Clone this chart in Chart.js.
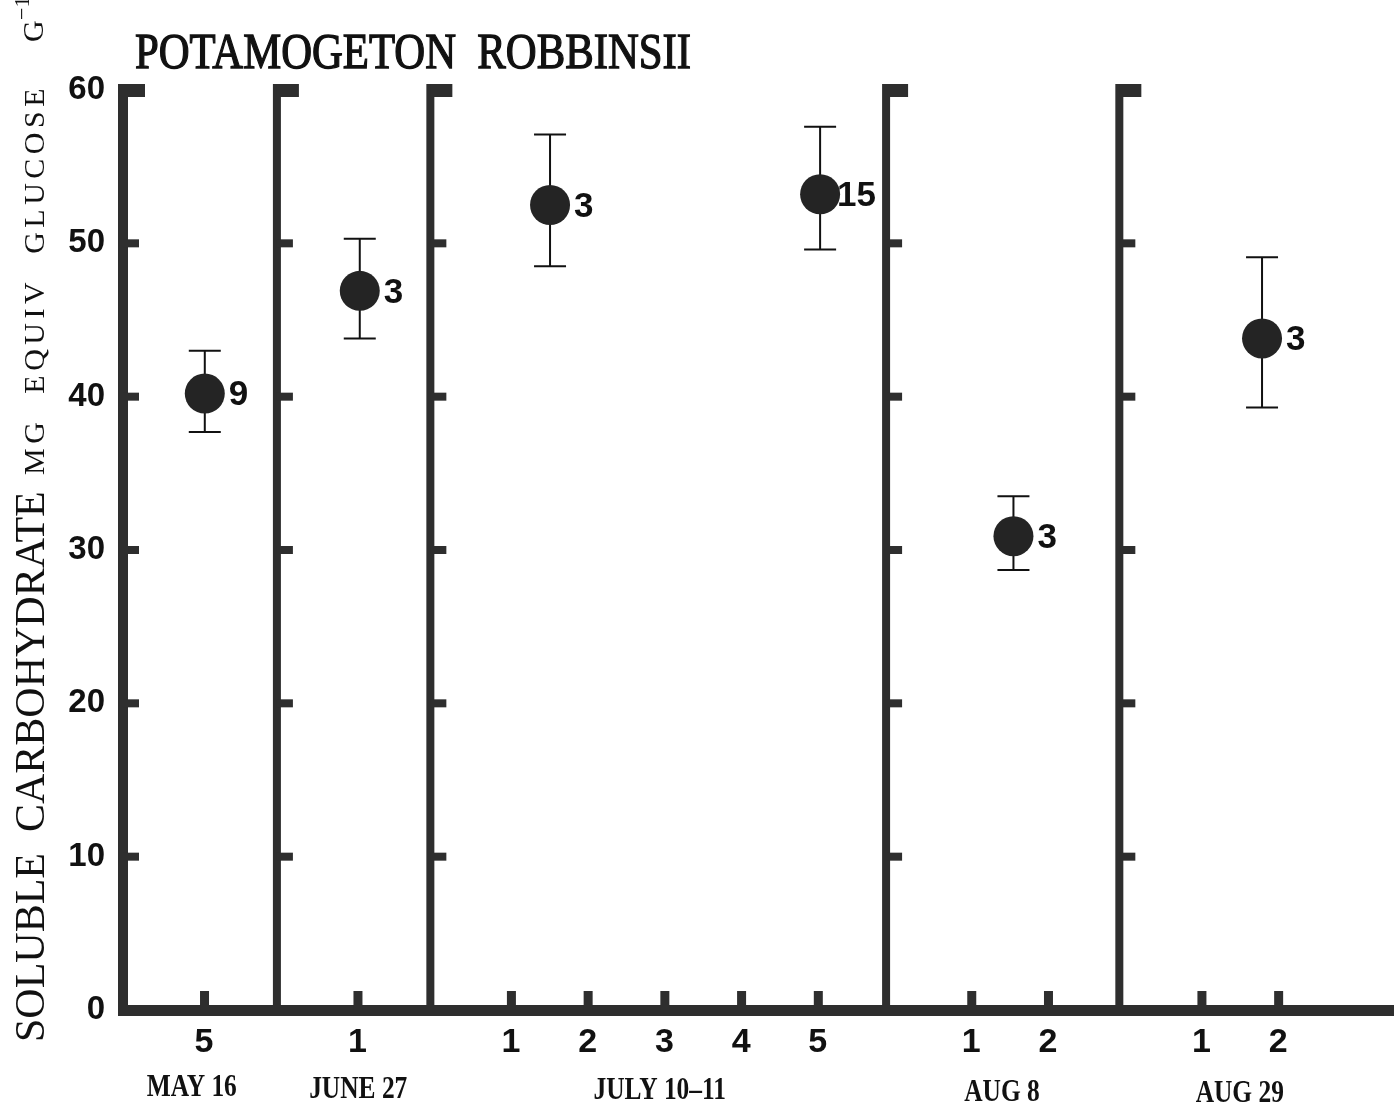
<!DOCTYPE html>
<html>
<head>
<meta charset="utf-8">
<script src="https://cdn.jsdelivr.net/npm/chart.js@4.4.1/dist/chart.umd.min.js"></script>
<style>
html, body { margin: 0; padding: 0; background: #fff; }
</style>
</head>
<body>
<canvas id="carb-chart" width="1394" height="1113"></canvas>
<script>
// x runs in "sample site" units, the date groups are split by panel lines
var tickPos     = [1, 3, 5, 6, 7, 8, 9, 11, 12, 14, 15];
var tickLabels  = ["5", "1", "1", "2", "3", "4", "5", "1", "2", "1", "2"];
var dateCenters = [0.84, 3.01, 6.94, 11.4, 14.5];
var dateLabels  = ["MAY 16", "JUNE 27", "JULY 10\u201311", "AUG 8", "AUG 29"];
var panelLines  = [1.95, 3.95, 9.89, 12.93];

// means with their error bars, n next to each point
var ptX    = [1.01, 3.03, 5.51, 9.03, 11.55, 14.79];
var ptMean = [40.2, 46.9, 52.5, 53.2, 30.9, 43.8];
var ptHigh = [43.0, 50.3, 57.1, 57.6, 33.5, 49.1];
var ptLow  = [37.7, 43.8, 48.5, 49.6, 28.7, 39.3];
var ptN    = ["9", "3", "3", "15", "3", "3"];

var yTicks = [0, 10, 20, 30, 40, 50, 60];

var INK = '#2e2e2e';

function squeezeText(ctx, text, x, y, squeeze) {
    var w = ctx.measureText(text).width;
    ctx.fillText(text, x, y, w * squeeze);
}

var drawing = {
    id: 'drawing',
    beforeDatasetsDraw: function(chart) {
        var ctx = chart.ctx, xs = chart.scales.x, ys = chart.scales.y;
        var top = ys.getPixelForValue(60), bottom = ys.getPixelForValue(0);
        ctx.save();
        ctx.fillStyle = INK;

        // vertical axis + panel lines, each with its own ticks on the right
        var lines = [xs.left].concat(panelLines.map(function(p) { return xs.getPixelForValue(p); }));
        lines.forEach(function(px, k) {
            var w = k == 0 ? 10 : 8;
            ctx.fillRect(px - w / 2, top - 6, w, bottom - top + 6);
            yTicks.forEach(function(v) {
                if (v == 0) return;
                var py = ys.getPixelForValue(v);
                if (v == 60) ctx.fillRect(px, top - 6, 22, 13);
                else ctx.fillRect(px, py - 4, 16, 8);
            });
        });

        // horizontal axis with small upright ticks
        ctx.fillRect(xs.left - 5, bottom - 5, xs.right - xs.left + 5, 11);
        tickPos.forEach(function(v) {
            var px = xs.getPixelForValue(v);
            ctx.fillRect(px - 4, bottom - 19, 9, 19);
        });

        // error bars
        ctx.strokeStyle = '#111';
        ctx.lineWidth = 2;
        ptX.forEach(function(v, i) {
            var px = xs.getPixelForValue(v);
            var hi = ys.getPixelForValue(ptHigh[i]), lo = ys.getPixelForValue(ptLow[i]);
            ctx.beginPath();
            ctx.moveTo(px, hi); ctx.lineTo(px, lo);
            ctx.moveTo(px - 16, hi); ctx.lineTo(px + 16, hi);
            ctx.moveTo(px - 16, lo); ctx.lineTo(px + 16, lo);
            ctx.stroke();
        });
        ctx.restore();
    },
    afterDatasetsDraw: function(chart) {
        var ctx = chart.ctx, xs = chart.scales.x, ys = chart.scales.y;
        ctx.save();
        ctx.fillStyle = '#111';
        ctx.font = 'bold 35px "Liberation Sans"';
        ctx.textAlign = 'left';
        ctx.textBaseline = 'middle';
        ptX.forEach(function(v, i) {
            var px = xs.getPixelForValue(v), py = ys.getPixelForValue(ptMean[i]);
            ctx.fillText(ptN[i], px + (ptN[i].length > 1 ? 17 : 24), py + 2);
        });

        // date group names under the sample numbers
        ctx.font = 'bold 31px "Liberation Serif"';
        ctx.textAlign = 'center';
        ctx.textBaseline = 'alphabetic';
        dateCenters.forEach(function(v, i) {
            squeezeText(ctx, dateLabels[i], xs.getPixelForValue(v), 1096 + i * 1.5, 0.82);
        });

        // title
        ctx.textAlign = 'left';
        ctx.font = '50px "Liberation Serif"';
        ctx.lineWidth = 1.3;
        ctx.strokeStyle = '#111';
        ctx.fillText('POTAMOGETON  ROBBINSII', 135, 68, 556);
        ctx.strokeText('POTAMOGETON  ROBBINSII', 135, 68, 556);

        // rotated y axis title
        ctx.translate(44, 1042);
        ctx.rotate(-Math.PI / 2);
        ctx.font = '42px "Liberation Serif"';
        ctx.fillText('SOLUBLE  CARBOHYDRATE', 0, 0, 555);
        ctx.font = '30px "Liberation Serif"';
        ctx.letterSpacing = '4.5px';
        ctx.fillText('MG  EQUIV  GLUCOSE', 567, 0, 392);
        ctx.letterSpacing = '0px';
        ctx.fillText('G', 1000, -1);
        ctx.font = '22px "Liberation Serif"';
        ctx.fillText('\u22121', 1022, -15);
        ctx.restore();
    }
};

var ctx = document.getElementById("carb-chart").getContext('2d');
var myChart = new Chart(ctx, {
    type: 'scatter',
    data: {
        datasets: [{
            label: 'Soluble carbohydrate',
            data: ptX.map(function(x, i) { return { x: x, y: ptMean[i] }; }),
            pointRadius: 20,
            pointHoverRadius: 20,
            backgroundColor: '#242424',
            borderWidth: 0
        }]
    },
    options: {
        responsive: false,
        animation: false,
        layout: { autoPadding: false, padding: { top: 90, right: 0, bottom: 0, left: 0 } },
        plugins: {
            legend: { display: false },
            tooltip: { enabled: false }
        },
        scales: {
            x: {
                type: 'linear',
                min: -0.056,
                max: 16.51,
                grid: { display: false },
                border: { display: false },
                afterBuildTicks: function(s) {
                    s.ticks = tickPos.map(function(v) { return { value: v }; });
                },
                afterFit: function(s) {
                    s.height = 103;
                    s.paddingLeft = 0;
                    s.paddingRight = 0;
                },
                ticks: {
                    autoSkip: false,
                    maxRotation: 0,
                    padding: 4,
                    color: '#111',
                    font: { family: 'Liberation Sans', size: 34, weight: 'bold' },
                    callback: function(v, i) { return tickLabels[i]; }
                }
            },
            y: {
                min: 0,
                max: 60,
                grid: { display: false },
                border: { display: false },
                afterFit: function(s) { s.width = 123; },
                ticks: {
                    stepSize: 10,
                    padding: 10,
                    color: '#111',
                    font: { family: 'Liberation Sans', size: 33, weight: 'bold' }
                }
            }
        }
    },
    plugins: [drawing]
});
</script>
</body>
</html>
